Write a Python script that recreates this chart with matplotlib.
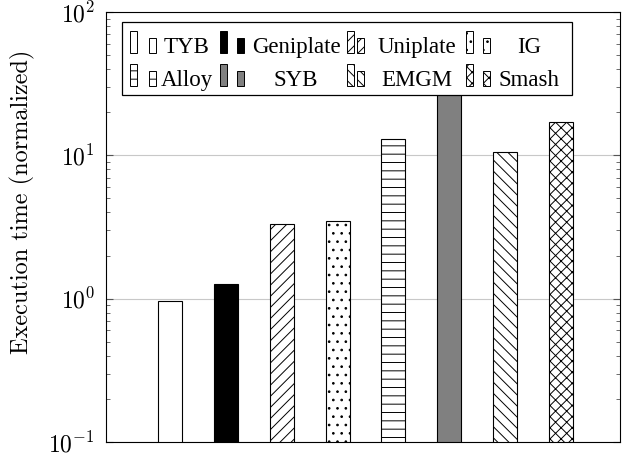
import numpy as np
import matplotlib
matplotlib.use("Agg")
import matplotlib.pyplot as plt
from matplotlib.patches import Rectangle

plt.rcParams['mathtext.fontset'] = 'cm'
plt.rcParams['hatch.linewidth'] = 0.7

names = ["TYB", "Geniplate", "Uniplate", "IG", "Alloy", "SYB", "EMGM", "Smash"]
times = [0.97, 1.27, 3.3, 3.5, 13.0, 40.0, 10.5, 17.2]
fills = ["white", "black", "white", "white", "white", "#808080", "white", "white"]
hatches = [None, None, "///", "..", "--", None, "\\\\\\", "xxx"]

W, H = 622, 459
fig = plt.figure(figsize=(W/100, H/100), dpi=100)
ax = fig.add_axes([106/W, 1-442/H, 514/W, 430/H])

x = np.arange(len(names))
bars = ax.bar(x, times, width=0.43, color=fills, edgecolor="black",
              linewidth=0.8, zorder=2)
for b, h in zip(bars, hatches):
    if h:
        b.set_hatch(h)

ax.set_yscale("log")
ax.set_ylim(0.1, 100)
ax.set_xlim(-1.147, 8.06)
ax.set_xticks([])
ax.yaxis.grid(True, which="major", color="#c8c8c8", lw=0.8, zorder=0)
ax.tick_params(axis="y", which="both", direction="in", right=True,
               labelsize=17, color="#555555", pad=8)
ax.tick_params(axis="y", which="major", length=5)
ax.tick_params(axis="y", which="minor", length=3)
for lab in ax.get_yticklabels():
    lab.set_fontfamily("cmr10")
ax.set_ylabel("Execution time (normalized)", fontfamily="cmr10", fontsize=17.5)
ax.yaxis.set_label_coords(-0.138, 0.559)

# legend drawn by hand (pgfplots style: two small bars, centred label)
def fx(px):
    return px / W

def fy(py):
    return 1 - py / H

fig.add_artist(Rectangle((fx(122), fy(95)), fx(450), 73/H, transform=fig.transFigure,
                         facecolor="white", edgecolor="black", lw=0.9, zorder=5))
col_h1 = [130, 220, 347, 466]
col_h2 = [149, 237, 357, 483]
col_tx = [187, 296, 417, 529]
row_base = [53, 86]
for i, name in enumerate(names):
    r, c = divmod(i, 4)
    base = row_base[r]
    for hx, hh in ((col_h1[c], 22), (col_h2[c], 15)):
        p = Rectangle((fx(hx), fy(base)), 7/W, hh/H, transform=fig.transFigure,
                      facecolor=fills[i], edgecolor="black", lw=0.7, zorder=6)
        if hatches[i]:
            p.set_hatch(hatches[i])
        fig.add_artist(p)
    fig.text(fx(col_tx[c]), fy(base), name, ha="center", va="baseline",
             family="Liberation Serif", fontsize=16.5, zorder=7)

fig.savefig("out.png", dpi=100)
